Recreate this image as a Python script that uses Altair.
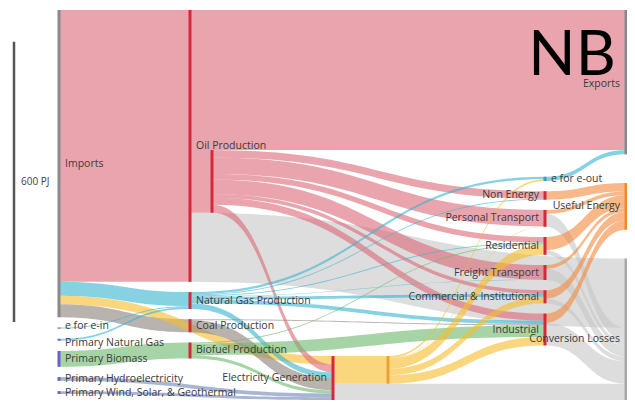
import altair as alt
import numpy as np
import pandas as pd

# ---------------- data ----------------
NODE_NAMES = [
    "Imports", "e for e-in", "Primary Natural Gas", "Primary Biomass",
    "Primary Hydroelectricity", "Primary Wind, Solar, & Geothermal",
    "Oil Production", "Natural Gas Production", "Coal Production", "Biofuel Production",
    "Refined Petroleum", "Electricity Generation", "Electricity",
    "e for e-out", "Non Energy", "Personal Transport", "Residential",
    "Freight Transport", "Commercial & Institutional", "Industrial",
    "Exports", "Useful Energy", "Conversion Losses",
]
NODE_STAGE = [0, 0, 0, 0, 0, 0, 1, 1, 1, 1, 2, 3, 4, 5, 5, 5, 5, 5, 5, 5, 6, 6, 6]
NODE_GROUP = ["trade", "efe", "primary", "primary", "primary", "primary",
              "process", "process", "process", "process", "process", "process", "elec",
              "efe_out", "sector", "sector", "sector", "sector", "sector", "sector",
              "trade", "useful", "loss"]
HIDDEN_LABELS = ["Refined Petroleum", "Electricity"]

LINK_SOURCE = [
    "Imports", "Imports", "Imports", "Imports",
    "e for e-in", "Primary Natural Gas", "Primary Biomass",
    "Primary Hydroelectricity", "Primary Wind, Solar, & Geothermal",
    "Oil Production", "Oil Production", "Oil Production",
    "Refined Petroleum", "Refined Petroleum", "Refined Petroleum", "Refined Petroleum",
    "Refined Petroleum", "Refined Petroleum", "Refined Petroleum",
    "Natural Gas Production", "Natural Gas Production", "Natural Gas Production",
    "Natural Gas Production", "Natural Gas Production", "Natural Gas Production",
    "Natural Gas Production",
    "Coal Production", "Coal Production",
    "Biofuel Production", "Biofuel Production", "Biofuel Production",
    "Electricity Generation", "Electricity Generation",
    "Electricity", "Electricity", "Electricity", "Electricity", "Electricity",
    "e for e-out",
    "Non Energy",
    "Personal Transport", "Personal Transport",
    "Residential", "Residential",
    "Freight Transport", "Freight Transport",
    "Commercial & Institutional", "Commercial & Institutional",
    "Industrial", "Industrial",
]
LINK_TARGET = [
    "Oil Production", "Natural Gas Production", "Coal Production", "Electricity Generation",
    "Natural Gas Production", "Natural Gas Production", "Biofuel Production",
    "Electricity Generation", "Electricity Generation",
    "Exports", "Refined Petroleum", "Conversion Losses",
    "Non Energy", "Personal Transport", "Residential", "Freight Transport",
    "Commercial & Institutional", "Industrial", "Electricity Generation",
    "e for e-out", "Non Energy", "Residential", "Freight Transport",
    "Commercial & Institutional", "Industrial", "Electricity Generation",
    "Electricity Generation", "Industrial",
    "Residential", "Industrial", "Electricity Generation",
    "Electricity", "Conversion Losses",
    "e for e-out", "Personal Transport", "Residential", "Commercial & Institutional", "Industrial",
    "Exports",
    "Useful Energy",
    "Useful Energy", "Conversion Losses",
    "Useful Energy", "Conversion Losses",
    "Useful Energy", "Conversion Losses",
    "Useful Energy", "Conversion Losses",
    "Useful Energy", "Conversion Losses",
]
LINK_VALUE = [
    582, 30, 28, 18,
    2, 4, 34,
    8, 6,
    300, 134, 148,
    16, 35, 12, 31, 8, 15, 17,
    5, 2, 2, 1, 6, 8, 12,
    26, 2,
    2, 25, 7,
    59, 35,
    4, 1, 22, 14, 18,
    9,
    18,
    8, 28,
    28, 10,
    8, 24,
    18, 10,
    20, 48,
]
LINK_CARRIER = [
    "oil", "gas", "coal", "electricity",
    "gas", "gas", "biomass",
    "renewable", "renewable",
    "oil", "oil", "loss",
    "oil", "oil", "oil", "oil", "oil", "oil", "oil",
    "gas", "gas", "gas", "gas", "gas", "gas", "gas",
    "coal", "coal",
    "biomass", "biomass", "biomass",
    "electricity", "loss",
    "electricity", "electricity", "electricity", "electricity", "electricity",
    "gas",
    "useful",
    "useful", "loss",
    "useful", "loss",
    "useful", "loss",
    "useful", "loss",
    "useful", "loss",
]
SCALE_BAR_PJ = 600

# ---------------- layout (styles / positions) ----------------
W, H = 619, 393
GAP = 22.0
TOTAL = 835.0
TOP_PX, BOTTOM_PX = 2.0, 392.0
STAGE_X = [51, 182, 204, 325, 380, 537, 618]
STAGE_MODE = ["top", "top", "inflow", "bottom", "inflow", "inflow", "spread"]
SCALE_BAR_TOP = 68.0
CARRIER_ORDER = {"oil": 0, "gas": 1, "electricity": 2, "coal": 3}

CARRIER_COLOR = {
    "oil": "#dc6877", "gas": "#35b4d0", "coal": "#8a817c", "electricity": "#f7bd2a",
    "biomass": "#6cb86a", "renewable": "#6f86b5", "useful": "#f5883a", "loss": "#c6c6c6",
}
GROUP_COLOR = {
    "trade": "#8a8a8a", "efe": "#b03040", "primary": "#6a5fd0", "process": "#d6283b",
    "elec": "#f0a030", "efe_out": "#3a9fc0", "sector": "#d6283b", "useful": "#f08a30",
    "loss": "#a8a8a8",
}
LABEL_LEFT_SIDE = {"Electricity Generation", "Non Energy", "Personal Transport", "Residential",
                   "Freight Transport", "Commercial & Institutional", "Industrial",
                   "Exports", "Useful Energy", "Conversion Losses"}
LABEL_DY = {"Conversion Losses": 10, "Exports": 2, "e for e-in": -2, "Primary Natural Gas": 3}

# ---------------- sankey layout computation ----------------
n = len(NODE_NAMES)
idx = {name: i for i, name in enumerate(NODE_NAMES)}
L = len(LINK_SOURCE)
src = [idx[s] for s in LINK_SOURCE]
tgt = [idx[t] for t in LINK_TARGET]
val = [float(v) for v in LINK_VALUE]
vin = np.zeros(n)
vout = np.zeros(n)
for s, t, v in zip(src, tgt, val):
    vout[s] += v
    vin[t] += v
size = np.maximum(vin, vout)
top = np.zeros(n)
sy = np.zeros(L)
ty = np.zeros(L)
have_slots = False
for it in range(4):
    for st in range(len(STAGE_X)):
        members = [i for i in range(n) if NODE_STAGE[i] == st]
        mode = STAGE_MODE[st]
        hsum = sum(size[i] for i in members)
        span = hsum + GAP * (len(members) - 1)
        gap = GAP
        if mode == "top":
            start = 0.0
        elif mode == "bottom":
            start = TOTAL - span
        elif mode == "spread":
            gap = (TOTAL - hsum) / max(len(members) - 1, 1)
            start = 0.0
        else:
            num = den = 0.0
            for k in range(L):
                if tgt[k] in members:
                    c = (sy[k] + val[k] / 2) if have_slots else top[src[k]] + size[src[k]] / 2
                    num += c * val[k]
                    den += val[k]
            start = num / den - span / 2
        y = start
        for i in members:
            top[i] = y
            y += size[i] + gap
    for i in range(n):
        outs = [k for k in range(L) if src[k] == i]
        if NODE_STAGE[i] == 0:
            outs.sort(key=lambda k: CARRIER_ORDER.get(LINK_CARRIER[k], 9))
        else:
            outs.sort(key=lambda k: (LINK_CARRIER[k] == "loss", top[tgt[k]]))
        y = top[i]
        for k in outs:
            sy[k] = y
            y += val[k]
        ins = [k for k in range(L) if tgt[k] == i]
        ins.sort(key=lambda k: top[src[k]])
        y = top[i]
        for k in ins:
            ty[k] = y
            y += val[k]
    have_slots = True

# link geometry (cubic bezier horizontal links)
u = np.linspace(0, 1, 41)
rows = []
for k in range(L):
    x0 = STAGE_X[NODE_STAGE[src[k]]]
    x1 = STAGE_X[NODE_STAGE[tgt[k]]]
    xm = (x0 + x1) / 2
    bx = x0 * (1 - u) ** 3 + 3 * xm * (1 - u) ** 2 * u + 3 * xm * (1 - u) * u ** 2 + x1 * u ** 3
    f = 3 * u ** 2 - 2 * u ** 3
    yt = sy[k] + (ty[k] - sy[k]) * f
    for xx, yy in zip(bx, yt):
        rows.append(dict(link=k, x=float(xx), y0=float(yy), y1=float(yy + val[k]),
                         carrier=LINK_CARRIER[k], fill=CARRIER_COLOR[LINK_CARRIER[k]]))
links_df = pd.DataFrame(rows)

nodes_df = pd.DataFrame(dict(
    name=NODE_NAMES,
    x=[STAGE_X[s] for s in NODE_STAGE],
    y0=top,
    y1=top + size,
    yc=top + size / 2,
    color=[GROUP_COLOR[g] for g in NODE_GROUP],
    label=["" if nm in HIDDEN_LABELS else nm for nm in NODE_NAMES],
    side=["left" if nm in LABEL_LEFT_SIDE else "right" for nm in NODE_NAMES],
    dy=[LABEL_DY.get(nm, 0) for nm in NODE_NAMES],
))

# scales
k_px = (BOTTOM_PX - TOP_PX) / TOTAL
y_dom = [-TOP_PX / k_px, TOTAL + (H - BOTTOM_PX) / k_px]
nodes_df["yl"] = nodes_df["yc"] + nodes_df["dy"] / k_px
xs = alt.Scale(domain=[0, W], range=[0, W])
ys = alt.Scale(domain=y_dom, reverse=True)
X = lambda f: alt.X(f, type="quantitative", scale=xs, axis=None)
Y = lambda f: alt.Y(f, type="quantitative", scale=ys, axis=None)

base_links = alt.Chart(links_df)
loss_layer = base_links.transform_filter(alt.datum.carrier == "loss").mark_area(
    fillOpacity=0.6, interpolate="linear").encode(
    x=X("x"), y=Y("y0"), y2="y1", detail="link:N", color=alt.Color("fill:N", scale=None))
flow_layer = base_links.transform_filter(alt.datum.carrier != "loss").mark_area(
    fillOpacity=0.6, interpolate="linear").encode(
    x=X("x"), y=Y("y0"), y2="y1", detail="link:N", color=alt.Color("fill:N", scale=None))

node_layer = alt.Chart(nodes_df).mark_rule(strokeWidth=3).encode(
    x=X("x"), y=Y("y0"), y2="y1", color=alt.Color("color:N", scale=None))

FONT = dict(font="Open Sans", fontSize=10.5, color="#3a3a3a")
lab_right = alt.Chart(nodes_df).transform_filter(alt.datum.side == "right").mark_text(
    align="left", baseline="middle", dx=6, **FONT).encode(
    x=X("x"), y=Y("yl"), text="label:N")
lab_left = alt.Chart(nodes_df).transform_filter(alt.datum.side == "left").mark_text(
    align="right", baseline="middle", dx=-6, **FONT).encode(
    x=X("x"), y=Y("yl"), text="label:N")

bar_df = pd.DataFrame(dict(v0=[SCALE_BAR_TOP], v1=[SCALE_BAR_TOP + SCALE_BAR_PJ],
                           vc=[SCALE_BAR_TOP + SCALE_BAR_PJ / 2], t=[f"{SCALE_BAR_PJ} PJ"]))
bar = alt.Chart(bar_df).mark_rule(strokeWidth=2.5, color="#555555").encode(
    x=alt.value(6), y=Y("v0"), y2="v1")
bar_text = alt.Chart(bar_df).mark_text(align="left", baseline="middle",
                                       font="Open Sans", fontSize=10, color="#444444").encode(
    x=alt.value(13), y=Y("vc"), text="t:N")

nb = alt.Chart(pd.DataFrame(dict(t=["NB"]))).mark_text(
    align="center", baseline="alphabetic", font="Lato", fontSize=62, color="#000000").encode(
    x=alt.value(564), y=alt.value(67), text="t:N")

chart = alt.layer(loss_layer, flow_layer, node_layer, lab_right, lab_left, bar, bar_text, nb).properties(
    width=W, height=H, autosize=alt.AutoSizeParams(type="none"), padding=0
).configure_view(stroke=None)

chart.save("out.html", embed_options={"renderer": "svg", "actions": False})
